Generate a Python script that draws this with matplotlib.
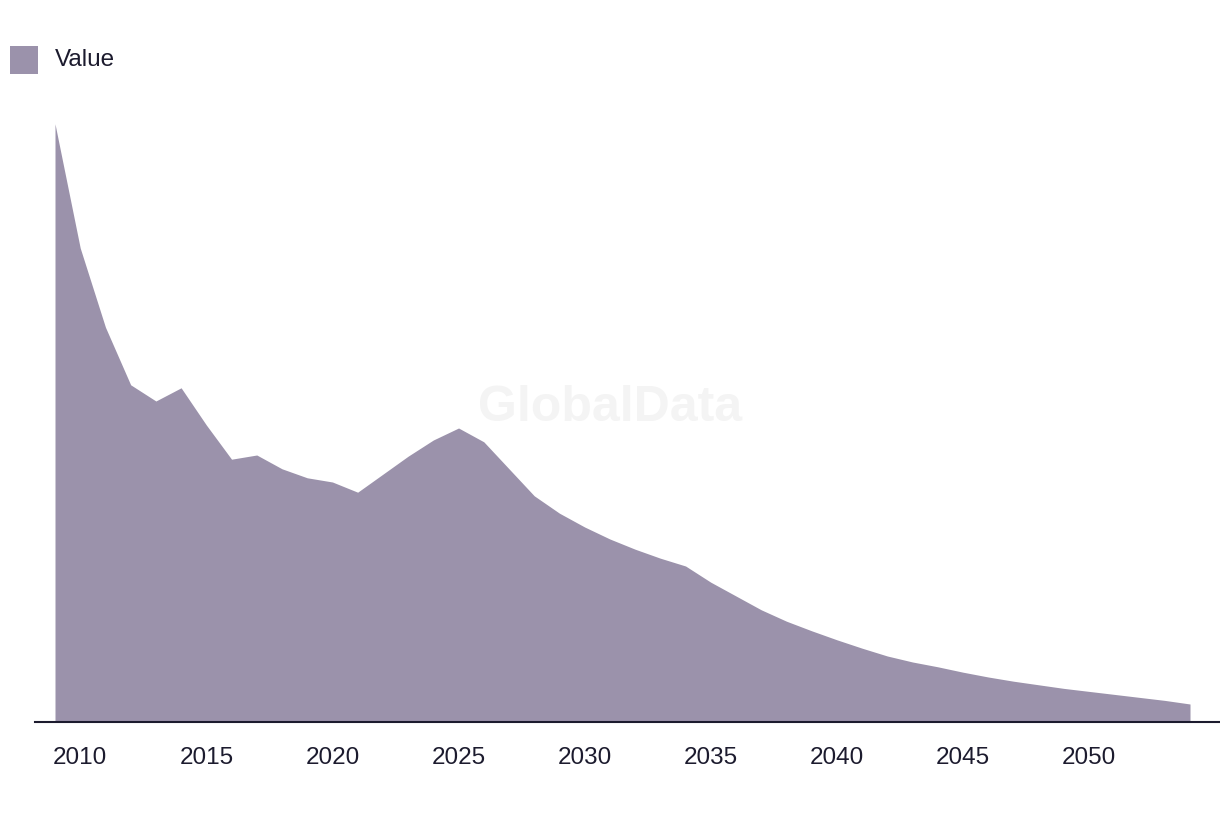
import matplotlib
matplotlib.use("Agg")
import matplotlib.pyplot as plt
from matplotlib.patches import Patch

years = list(range(2009, 2055))
values = [99.7, 79.0, 65.8, 56.2, 53.5, 55.7, 49.5, 43.8, 44.5, 42.2,
          40.7, 40.0, 38.3, 41.3, 44.3, 47.0, 49.0, 46.7, 42.2, 37.7,
          34.8, 32.5, 30.5, 28.8, 27.3, 26.0, 23.3, 21.0, 18.7, 16.8,
          15.2, 13.7, 12.3, 11.0, 10.0, 9.2, 8.3, 7.5, 6.8, 6.2,
          5.6, 5.1, 4.6, 4.1, 3.6, 3.0]
tick_years = [2010, 2015, 2020, 2025, 2030, 2035, 2040, 2045, 2050]
series_name = "Value"

fill_color = "#9b92ab"
text_color = "#1c1b2e"

plt.rcParams['font.family'] = ['Liberation Sans', 'DejaVu Sans']

fig = plt.figure(figsize=(12.2, 8.16), dpi=100)
W, H = 1220, 816
left_px, right_px, top_px, base_px = 35, 1222, 100, 722
ax = fig.add_axes([left_px / W, 1 - base_px / H, (right_px - left_px) / W, (base_px - top_px) / H])

ax.fill_between(years, values, 0, color=fill_color, linewidth=0, zorder=2)

px_per_year = (1190 - 55) / 45
ax.set_xlim(2009 - (55 - left_px) / px_per_year, 2054 + (right_px - 1190) / px_per_year)
ax.set_ylim(0, (base_px - top_px) / 6)

for s in ['top', 'right', 'left']:
    ax.spines[s].set_visible(False)
ax.spines['bottom'].set_color(text_color)
ax.spines['bottom'].set_linewidth(1.5)
ax.spines['bottom'].set_zorder(3)
ax.set_yticks([])
ax.set_xticks(tick_years)
ax.set_xticklabels([str(y) for y in tick_years], fontsize=17.5, color=text_color)
ax.tick_params(axis='x', length=0, pad=18)

fig.text(610 / W, 1 - 408 / H, "GlobalData", fontsize=36, fontweight='bold',
         color='#f4f4f4', ha='center', va='center', zorder=0)

leg = fig.legend(handles=[Patch(facecolor=fill_color, edgecolor='none', label=series_name)],
                 loc='upper left', bbox_to_anchor=(10 / W, 1 - 46 / H), frameon=False,
                 fontsize=17.5, handlelength=1.15, handleheight=1.15, handletextpad=0.7,
                 borderaxespad=0, borderpad=0)
for t in leg.get_texts():
    t.set_color(text_color)
for h in leg.legend_handles:
    h.set_height(28 * 72 / 100)
    h.set_y(-8 * 72 / 100)

fig.savefig("out.png", dpi=100, facecolor='white')
